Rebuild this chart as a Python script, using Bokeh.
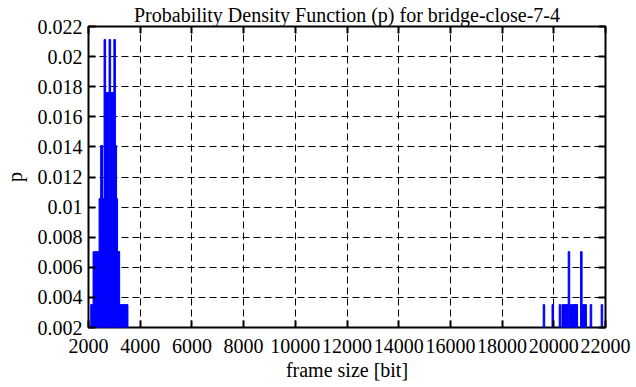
from bokeh.plotting import figure
from bokeh.models import Range1d, FixedTicker, LinearAxis, ColumnDataSource, CustomJSTickFormatter
from bokeh.embed import file_html
from bokeh.resources import INLINE

# ---- data (frame size in bits, probability) ----
frame_size_left = [2117, 2142, 2206, 2270, 2334, 2374, 2439, 2504, 2517, 2575,
                   2632, 2697, 2761, 2826, 2891, 2954, 3011, 3056, 3095, 3146,
                   3175, 3239, 3303, 3367, 3431, 3496]
p_left = [0.00352, 0.00352, 0.00704, 0.00704, 0.00704, 0.00704, 0.01056, 0.01408,
          0.01408, 0.01056, 0.02113, 0.01761, 0.01761, 0.02113, 0.01761, 0.01761,
          0.02113, 0.01408, 0.01056, 0.00704, 0.00704, 0.00352, 0.00352, 0.00352,
          0.00352, 0.00352]
frame_size_right = [19619, 19961, 20238, 20347, 20411, 20475, 20515, 20586, 20654,
                    20734, 20798, 20862, 20890, 21065, 21132, 21196, 21231, 21437,
                    21862]
p_right = [0.00352, 0.00352, 0.00352, 0.00352, 0.00352, 0.00352, 0.00352, 0.00704,
           0.00352, 0.00352, 0.00352, 0.00352, 0.00352, 0.00704, 0.00352, 0.00352,
           0.00352, 0.00352, 0.00352]

x_ticks = [2000, 4000, 6000, 8000, 10000, 12000, 14000, 16000, 18000, 20000, 22000]
y_ticks = [0.002, 0.004, 0.006, 0.008, 0.010, 0.012, 0.014, 0.016, 0.018, 0.020, 0.022]
y_tick_labels = ["0.002", "0.004", "0.006", "0.008", "0.01", "0.012", "0.014",
                 "0.016", "0.018", "0.02", "0.022"]

title_text = "Probability Density Function (p) for bridge-close-7-4"
x_label = "frame size [bit]"
y_label = "p"

FONT = "Liberation Serif"
FS = "20px"

frame_size = frame_size_left + frame_size_right
p_vals = p_left + p_right
src = ColumnDataSource(dict(x=frame_size, top=p_vals))

p = figure(frame_width=517, frame_height=301, output_backend="svg", toolbar_location=None,
           x_range=Range1d(x_ticks[0], x_ticks[-1]),
           y_range=Range1d(y_ticks[0], y_ticks[-1]),
           min_border_left=84, min_border_right=26, min_border_top=23,
           min_border_bottom=40)

p.vbar(x="x", top="top", bottom=y_ticks[0], width=60, source=src,
       fill_color="#0000ff", line_color="#0000ff", line_width=1)

p.title.text = title_text
p.title.text_font = FONT
p.title.text_font_size = FS
p.title.text_font_style = "normal"
p.title.align = "center"
p.title.text_color = "black"
p.title.standoff = 2

p.outline_line_color = "black"
p.outline_line_width = 2
p.outline_line_alpha = 1.0
p.background_fill_color = "white"
p.border_fill_color = "white"

for ax in (p.xaxis[0], p.yaxis[0]):
    ax.axis_line_color = None
    ax.major_tick_in = 7
    ax.major_tick_out = 0
    ax.major_tick_line_width = 2
    ax.major_tick_line_color = "black"
    ax.minor_tick_line_color = None
    ax.major_label_text_font = FONT
    ax.major_label_text_font_size = FS
    ax.major_label_text_color = "black"
    ax.axis_label_text_font = FONT
    ax.axis_label_text_font_size = FS
    ax.axis_label_text_font_style = "normal"
    ax.axis_label_text_color = "black"

p.xaxis[0].ticker = FixedTicker(ticks=x_ticks)
p.xaxis[0].axis_label = x_label
p.xaxis[0].major_label_standoff = 11
p.xaxis[0].axis_label_standoff = 3

p.yaxis[0].ticker = FixedTicker(ticks=y_ticks)
p.yaxis[0].major_label_overrides = {t: l for t, l in zip(y_ticks, y_tick_labels)}
p.yaxis[0].axis_label = y_label
p.yaxis[0].major_label_standoff = 6
p.yaxis[0].axis_label_standoff = 9

# mirrored ticks on top and right (no labels)
for loc, ticks in (("above", x_ticks), ("right", y_ticks)):
    ax = LinearAxis(ticker=FixedTicker(ticks=ticks),
                    formatter=CustomJSTickFormatter(code="return ''"))
    ax.axis_line_color = None
    ax.major_tick_in = 7
    ax.major_tick_out = 0
    ax.major_tick_line_width = 2
    ax.major_tick_line_color = "black"
    ax.minor_tick_line_color = None
    ax.major_label_standoff = 0
    p.add_layout(ax, loc)

for g in (p.xgrid[0], p.ygrid[0]):
    g.grid_line_color = "black"
    g.grid_line_width = 1
    g.grid_line_dash = "7 4"
p.xgrid[0].ticker = FixedTicker(ticks=x_ticks)
p.ygrid[0].ticker = FixedTicker(ticks=y_ticks)

open("out.html", "w").write(file_html(p, INLINE))
